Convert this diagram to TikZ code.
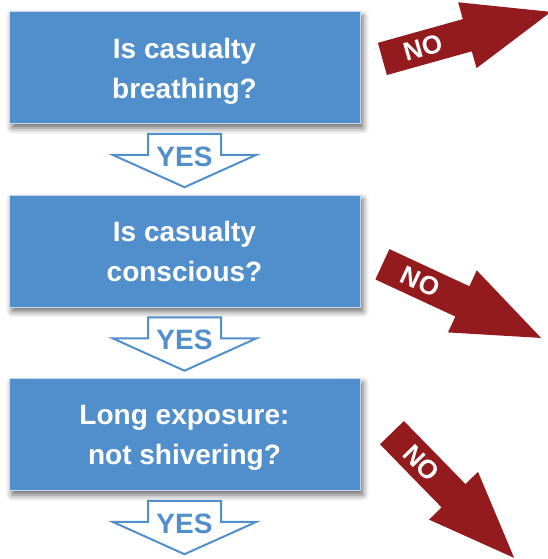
\documentclass[tikz,border=0pt]{standalone}
\usepackage{fontspec}
\setmainfont{Liberation Sans}
\usetikzlibrary{calc,shapes.arrows,shadows.blur}
\definecolor{boxblue}{RGB}{80,143,204}
\definecolor{boxedge}{RGB}{196,216,238}
\definecolor{nored}{RGB}{147,26,29}

\begin{document}
\begin{tikzpicture}[x=1pt, y=1pt,
    question/.style={rectangle, draw=boxedge, line width=1pt, fill=boxblue,
      minimum width=351pt, minimum height=112pt, align=center,
      text=white, font=\fontsize{28}{40}\selectfont\bfseries, text depth=0pt,
      blur shadow={shadow xshift=3pt, shadow yshift=-4pt,
        shadow blur radius=6pt, shadow opacity=60}},
    yesarrow/.style={draw=boxblue, line width=2pt, fill=white},
    yestext/.style={text=boxblue, font=\fontsize{28}{30}\selectfont\bfseries,
      text height=20pt, text depth=0pt, inner sep=0pt},
    noarrow/.style={single arrow, fill=nored, draw=none,
      text height=18pt, text depth=0pt, inner xsep=0pt, inner ysep=7.5pt,
      minimum height=175pt,
      single arrow head extend=17.5pt, single arrow tip angle=43,
      anchor=tail},
    notext/.style={text=white, font=\fontsize{26}{26}\selectfont\bfseries,
      text height=18pt, text depth=0pt, inner sep=0pt}
  ]
    \useasboundingbox (0,0) rectangle (547,559);

    % Fragen
    \node[question] (q1) at (184.5, 491) {Is casualty\\breathing?};
    \node[question] (q2) at (184.5, 307.5) {Is casualty\\conscious?};
    \node[question] (q3) at (184.5, 124) {Long exposure:\\not shivering?};

    % YES-Pfeile
    \foreach \q/\y in {q1/yes1, q2/yes2, q3/yes3} {
      \draw[yesarrow] ($(\q.south)+(-36.5,-9.3)$) -- ++(0,-21) -- ++(-35.5,0)
        -- ++(72,-32.4) -- ++(72,32.4) -- ++(-35.5,0) -- ++(0,21) -- cycle;
      \node[yestext] (\y) at ($(\q.south)+(0,-31.9)$) {YES};
    }

    % NO-Pfeile
    \node[noarrow, rotate=15.6] (no1) at ($(q1.east)+(21.7,9)$) {};
    \node[noarrow, rotate=-24.9] (no2) at ($(q2.east)+(21.7,-12.7)$) {};
    \node[noarrow, rotate=-45.7] (no3) at ($(q3.east)+(31.3,2.5)$) {};
    \foreach \n/\a in {no1/15.6, no2/-24.9, no3/-45.7}
      \node[notext, rotate=\a] (\n label) at ($(\n.tail)!0.24!(\n.tip)$) {NO};
\end{tikzpicture}
\end{document}
